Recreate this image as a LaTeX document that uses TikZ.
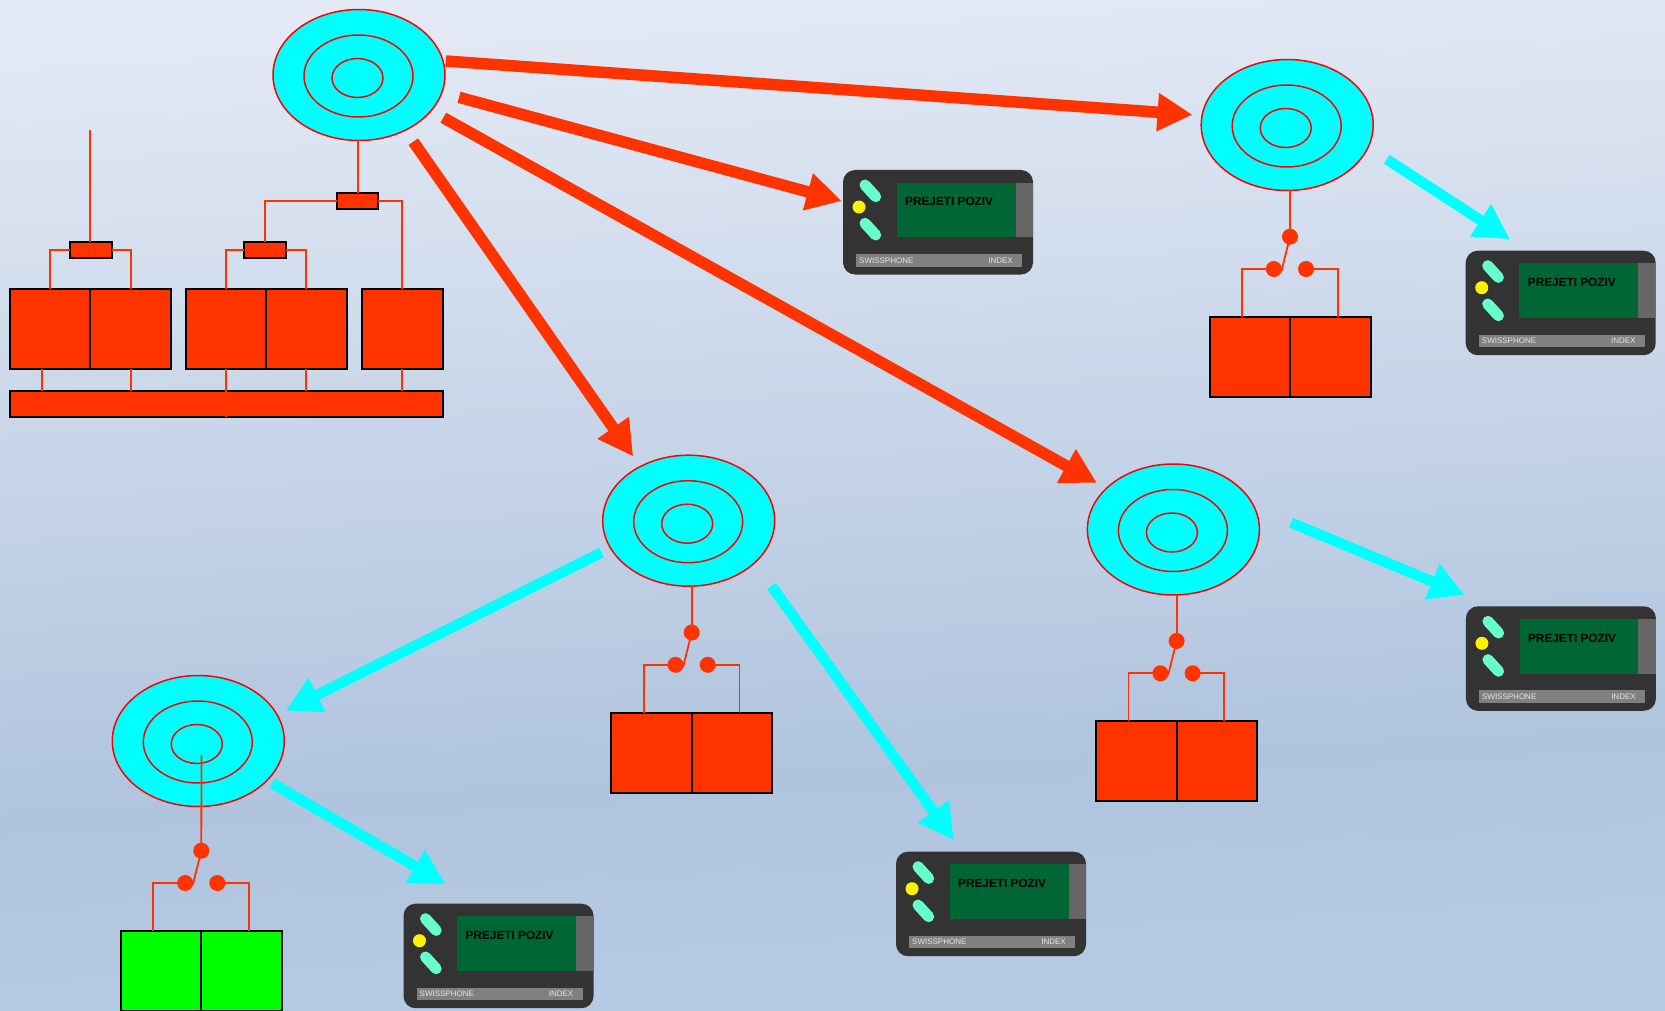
\documentclass[tikz,border=0pt]{standalone}
\usepackage{fontspec}
\setmainfont{Liberation Sans}
\usetikzlibrary{arrows.meta,shapes.geometric,calc}
\definecolor{sigred}{HTML}{FF3300}
\definecolor{ringred}{HTML}{FF0000}
\definecolor{aqua}{HTML}{00FFFF}
\definecolor{pagerbody}{HTML}{333333}
\definecolor{pagerscreen}{HTML}{006633}
\definecolor{pagergray}{HTML}{666666}
\definecolor{pagerbar}{HTML}{808080}
\definecolor{pagerpill}{HTML}{66FFCC}
\definecolor{pagertext}{HTML}{E6E6E6}
\definecolor{bgA}{HTML}{B8CBE5}
\definecolor{bgB}{HTML}{B0C4DE}
\definecolor{bgC}{HTML}{E4EAF5}
\pgfdeclareverticalshading{skyshade}{100bp}{
  color(0bp)=(bgA);
  color(25bp)=(bgA);
  color(37bp)=(bgB);
  color(75bp)=(bgC);
  color(100bp)=(bgC)}
\tikzset{
  ringouter/.style={ellipse,draw=ringred,fill=aqua,line width=1.5pt,inner sep=0pt,outer sep=0pt,minimum width=172pt,minimum height=131pt},
  ringmid/.style={ellipse,draw=ringred,line width=1.5pt,inner sep=0pt,outer sep=0pt,minimum width=109pt,minimum height=82pt},
  ringin/.style={ellipse,draw=ringred,line width=1.5pt,inner sep=0pt,outer sep=0pt,minimum width=51pt,minimum height=39pt},
  wire/.style={draw=sigred,line width=1.8pt},
  blade/.style={draw=sigred,line width=1.8pt},
  dot/.style={circle,fill=sigred,inner sep=0pt,outer sep=0pt,minimum size=16pt},
  cell/.style={rectangle,draw=black,fill=#1,line width=2pt,inner sep=0pt,outer sep=0pt,minimum width=80.5pt,minimum height=80pt,anchor=north west},
  cell/.default=sigred,
  smallbox/.style={rectangle,draw=black,fill=sigred,line width=2pt,inner sep=0pt,outer sep=0pt,minimum width=41.5pt,minimum height=16pt,anchor=north west},
  busbar/.style={rectangle,draw=black,fill=sigred,line width=2pt,inner sep=0pt,outer sep=0pt,minimum width=432.7pt,minimum height=26.3pt,anchor=north west},
  redarrow/.style={draw=sigred,line width=11.5pt,-{Triangle[length=35pt,width=36pt]}},
  aquaarrow/.style={draw=aqua,line width=10.5pt,-{Triangle[length=35pt,width=36pt]}},
  pagerbox/.style={rectangle,rounded corners=12pt,fill=pagerbody,inner sep=0pt,outer sep=0pt,minimum width=190pt,minimum height=104.5pt,anchor=north west},
  pagerbtn/.style={draw=pagerpill,line width=11pt,line cap=round},
  lcd/.style={font=\fontsize{11.8}{13}\selectfont\bfseries,text=black,inner sep=0pt,anchor=west},
  tag/.style={font=\fontsize{8}{9}\selectfont,text=pagertext,inner sep=0pt},
}
% ring target: name, centre x, centre y
\newcommand{\target}[3]{%
  \node[ringouter] (#1) at (#2,#3) {};
  \node[ringmid] (#1m) at ($(#1.center)+(-0.5,1)$) {};
  \node[ringin] (#1i) at ($(#1.center)+(-1.5,3)$) {};
}
% switch with two cells: name, x and y of the top contact, fill colour
\newcommand{\switchunit}[4]{%
  \begin{scope}[shift={(#2,#3)}]
    \node[dot] (#1top) at (0,0) {};
    \node[dot] (#1a) at (-16.2,32.3) {};
    \node[dot] (#1b) at (16,32.3) {};
    \node[cell=#4] (#1l) at (-80.3,80) {};
    \node[cell=#4] (#1r) at (0,80) {};
    \draw[wire] (#1a.center) -| ([xshift=-8pt]#1l.north);
    \draw[wire] (#1b.center) -| ([xshift=7.5pt]#1r.north);
    \draw[blade] (#1top.center) -- ($(#1a.center)+(7.7,2)$);
  \end{scope}
}
% pager: name, x and y of the top left corner
\newcommand{\pager}[3]{%
  \begin{scope}[shift={(#2,#3)}]
    \node[pagerbox] (#1) at (0,0) {};
    \fill[pagerscreen] (53.7,12.7) rectangle (172.5,67.3);
    \fill[pagergray] (172.5,12.7) rectangle (189.7,67.3);
    \draw[pagerbtn] (22,15) -- (32.7,26.7);
    \draw[pagerbtn] (22,53.3) -- (32.7,65);
    \fill[yellow] (16,37) circle (6.5pt);
    \fill[pagerbar] (13.3,84) rectangle (179.3,96.7);
    \node[lcd] (#1lcd) at (62,31.7) {PREJETI POZIV};
    \node[tag,anchor=west] (#1brand) at (16,90.4) {SWISSPHONE};
    \node[tag,anchor=east] (#1idx) at (170,90.4) {INDEX};
  \end{scope}
}
\begin{document}
\begin{tikzpicture}[x=1pt,y=-1pt]
\useasboundingbox (0,0) rectangle (1665,1011);
\begin{scope}
  \clip (0,0) rectangle (1665,1011);
  \shade[shading=skyshade,shading angle=3] (0,0) rectangle (1665,1011);
\end{scope}

% ring targets
\target{ta}{359}{75}
\target{tb}{1287.2}{125}
\target{tc}{688.7}{520.7}
\target{td}{1173.4}{529.5}
\target{te}{198.3}{741}

% head end
\node[cell,minimum width=80.3pt] (a1) at (10,289.3) {};
\node[cell,minimum width=80.7pt] (a2) at (90.3,289.3) {};
\node[cell,minimum width=80.3pt] (b1) at (185.7,289.3) {};
\node[cell,minimum width=80.7pt] (b2) at (266,289.3) {};
\node[cell] (c1) at (362,289.3) {};
\node[busbar] (bus) at (10,390.7) {};
\node[smallbox] (s1) at (70.3,241.7) {};
\node[smallbox] (s2) at (244.3,241.7) {};
\node[smallbox] (s3) at (336.7,193.3) {};
\coordinate (mast) at (90.3,130);

\draw[wire] (mast) -- (mast |- s1.north);
\draw[wire] (s1.west) -| (a1.north);
\draw[wire] (s1.east) -| (a2.north);
\draw[wire] (s2.west) -| (b1.north);
\draw[wire] (s2.east) -| (b2.north);
\draw[wire] ([xshift=0.7pt]s3.north |- ta.south) -- ([xshift=0.7pt]s3.north);
\draw[wire] (s3.west) -| (s2.north);
\draw[wire] (s3.east) -| (c1.north);
\draw[wire] ([xshift=-8.3pt]a1.south) -- ([xshift=-8.3pt]a1.south |- bus.north);
\draw[wire] (a2.south) -- (a2.south |- bus.north);
\draw[wire] (b1.south) -- (b1.south |- bus.south);
\draw[wire] (b2.south) -- (b2.south |- bus.north);
\draw[wire] (c1.south) -- (c1.south |- bus.north);

% switched units
\switchunit{sb}{1290}{236.7}{sigred}
\switchunit{sc}{691.7}{632.5}{sigred}
\switchunit{sd}{1176.6}{641}{sigred}
\switchunit{se}{201.3}{850.7}{green}
\draw[wire] (sbtop |- tb.south) -- (sbtop.center);
\draw[wire] (sctop |- tc.south) -- (sctop.center);
\draw[wire] (sdtop |- td.south) -- (sdtop.center);
\coordinate (feed) at (201.5,755);
\draw[wire] (feed) -- (setop.center);

% pagers
\pager{pa}{843}{170}
\pager{pb}{1465.7}{250.7}
\pager{pc}{1465.9}{606.3}
\pager{pd}{896}{851.7}
\pager{pe}{403.5}{903.7}

% arrows and their free ends
\coordinate (r1s) at (445.7,61);    \coordinate (r1e) at (1192.5,114.7);
\coordinate (r2s) at (459,97.3);    \coordinate (r2e) at (841.7,201);
\coordinate (r3s) at (443.3,117.7); \coordinate (r3e) at (1097,483);
\coordinate (r4s) at (413.3,141.7); \coordinate (r4e) at (633.2,456.5);
\coordinate (c1s) at (1386.7,159.3);\coordinate (c1e) at (1510,239.3);
\coordinate (c2s) at (1291,522.7);  \coordinate (c2e) at (1464.5,595);
\coordinate (c3s) at (601.5,552.5); \coordinate (c3e) at (285.7,710.7);
\coordinate (c4s) at (771.5,586);   \coordinate (c4e) at (953.8,840);
\coordinate (c5s) at (272.3,783.3); \coordinate (c5e) at (445.5,884);
\draw[redarrow] (r1s) -- (r1e);
\draw[redarrow] (r2s) -- (r2e);
\draw[redarrow] (r3s) -- (r3e);
\draw[redarrow] (r4s) -- (r4e);
\draw[aquaarrow] (c1s) -- (c1e);
\draw[aquaarrow] (c2s) -- (c2e);
\draw[aquaarrow] (c3s) -- (c3e);
\draw[aquaarrow] (c4s) -- (c4e);
\draw[aquaarrow] (c5s) -- (c5e);
\end{tikzpicture}
\end{document}
